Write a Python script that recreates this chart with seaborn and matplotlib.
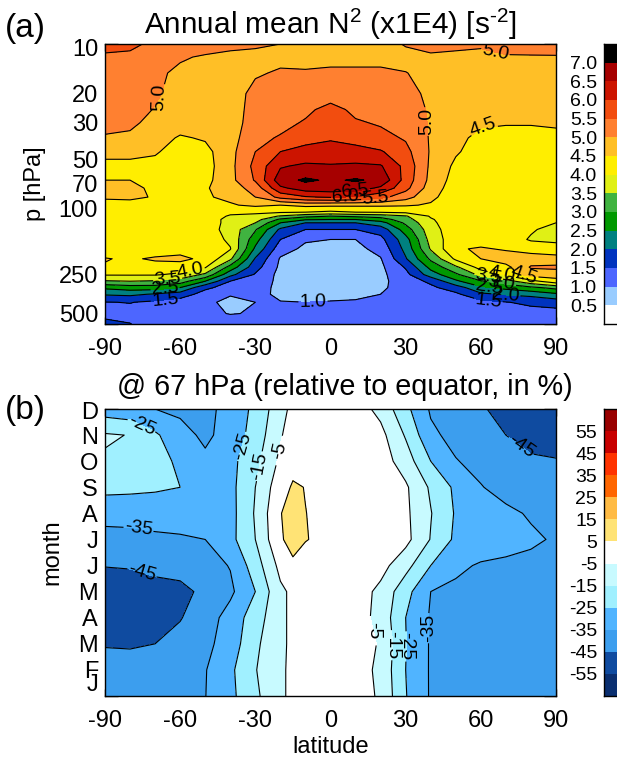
import numpy as np
import matplotlib
matplotlib.use("Agg")
import matplotlib.pyplot as plt
from matplotlib.colors import ListedColormap
import seaborn as sns

sns.set_style("ticks")
plt.rcParams['font.family'] = ['Liberation Sans', 'DejaVu Sans']
plt.rcParams['mathtext.fontset'] = 'custom'
plt.rcParams['mathtext.rm'] = 'Liberation Sans'
plt.rcParams['mathtext.default'] = 'regular'
plt.rcParams['axes.unicode_minus'] = False
plt.rcParams['contour.negative_linestyle'] = 'solid'
for key in ('text.color', 'axes.labelcolor', 'xtick.color', 'ytick.color'):
    plt.rcParams[key] = 'black'

lat_a = np.arange(-90, 91, 10)
p_a = [10, 12, 15, 20, 25, 30, 37.1, 45, 55.1, 67, 74.9, 84.9, 95, 100, 104.8, 110.8, 116.1, 121.6,
       133.5, 153.5, 175, 201, 226, 250.5, 275, 300.6, 330, 369, 432, 500]
n2_by_lat = [
 [5.6,5.45,5.35,5.25,5.2,5.15,4.95,4.65,4.35,4.5,4.6,4.55,4.35,4.25,4.2,4.2,4.2,4.2,4.2,4.25,4.3,4.52,4.47,4.05,3.45,2.6,2.05,1.48,1.4,1.6],
 [5.55,5.45,5.3,5.2,5.15,5.1,4.9,4.6,4.4,4.5,4.6,4.55,4.4,4.3,4.25,4.2,4.2,4.2,4.2,4.25,4.3,4.45,4.4,4.05,3.5,2.75,2.1,1.52,1.3,1.52],
 [5.45,5.3,5.1,5.05,4.98,4.85,4.7,4.55,4.35,4.35,4.42,4.48,4.3,4.25,4.2,4.2,4.2,4.2,4.2,4.25,4.3,4.55,4.35,4.05,3.45,2.75,1.95,1.4,1.2,1.15],
 [5.3,5.05,4.9,4.85,4.8,4.7,4.45,4.3,4.2,4.2,4.2,4.2,4.3,4.25,4.2,4.2,4.2,4.2,4.25,4.25,4.35,4.6,4.3,3.9,3.25,2.5,1.75,1.25,1.15,1.15],
 [5.2,4.95,4.8,4.75,4.7,4.65,4.55,4.35,4.3,4.35,4.45,4.45,4.3,4.3,4.25,4.25,4.25,4.25,4.25,4.3,4.5,4.4,4.05,3.4,2.5,1.6,1.3,1.15,1.1,1.2],
 [5.1,4.9,4.8,4.75,4.75,4.75,4.8,4.85,4.85,4.85,4.75,4.6,4.45,4.25,4.1,3.95,3.85,3.85,3.8,3.9,4.03,3.6,2.8,2.15,1.5,1.3,1.05,0.82,0.98,1.25],
 [5.05,4.9,4.95,5.15,5.2,5.25,5.35,5.5,5.65,5.55,5.2,5.0,4.6,4.3,4.1,3.85,3.7,3.5,3.05,2.7,2.4,1.95,1.7,1.45,1.35,1.25,1.15,1.0,1.03,1.25],
 [5.0,4.9,5.05,5.15,5.3,5.35,5.55,6.0,6.45,6.8,6.4,5.65,4.5,4.25,4.05,3.45,2.9,2.5,1.9,1.5,1.2,0.95,0.9,0.85,0.85,0.85,0.9,1.02,1.15,1.2],
 [4.7,4.85,5.05,5.25,5.4,5.55,5.85,6.15,6.6,7.08,6.75,5.95,4.65,4.25,4.0,3.15,2.55,2.0,1.5,1.05,0.9,0.8,0.75,0.75,0.75,0.8,0.85,1.0,1.15,1.25],
 [4.7,4.85,5.1,5.3,5.65,5.75,5.95,6.2,6.55,6.93,6.8,6.05,4.6,4.25,3.9,3.0,2.5,2.0,1.5,1.0,0.85,0.75,0.7,0.7,0.7,0.75,0.85,1.03,1.15,1.5],
 [4.7,4.85,5.1,5.25,5.4,5.55,5.85,6.15,6.6,7.05,6.75,5.95,4.6,4.25,4.0,3.1,2.5,2.0,1.5,1.0,0.87,0.78,0.72,0.72,0.73,0.8,0.9,1.05,1.15,1.25],
 [4.75,4.85,5.1,5.25,5.35,5.45,5.65,6.05,6.55,6.9,6.4,5.65,4.6,4.25,4.03,3.2,2.75,2.3,1.7,1.35,1.15,0.97,0.9,0.88,0.88,0.92,1.0,1.1,1.2,1.25],
 [5.05,4.8,5.02,5.15,5.2,5.3,5.45,5.65,5.85,5.8,5.65,5.2,4.55,4.3,4.1,3.45,3.3,3.1,2.75,2.3,2.15,1.95,1.55,1.35,1.25,1.2,1.15,1.15,1.2,1.25],
 [5.1,4.95,4.8,4.9,4.95,4.95,4.95,4.95,4.9,4.85,4.75,4.6,4.45,4.35,4.2,4.05,3.95,3.9,3.8,3.7,3.55,3.1,2.65,2.25,1.6,1.4,1.25,1.2,1.2,1.2],
 [5.1,4.9,4.75,4.7,4.65,4.6,4.6,4.55,4.4,4.3,4.25,4.25,4.3,4.3,4.3,4.3,4.3,4.3,4.3,4.3,4.45,4.1,3.4,2.9,2.4,1.75,1.4,1.25,1.2,1.2],
 [5.05,4.9,4.75,4.7,4.6,4.55,4.4,4.3,4.25,4.2,4.2,4.2,4.2,4.2,4.2,4.2,4.2,4.2,4.25,4.3,4.55,4.5,4.2,3.65,2.95,2.4,1.9,1.35,1.25,1.2],
 [5.2,4.95,4.75,4.65,4.6,4.52,4.4,4.3,4.25,4.2,4.2,4.2,4.2,4.2,4.2,4.2,4.2,4.2,4.2,4.25,4.45,4.75,4.35,4.1,3.3,2.65,2.05,1.48,1.3,1.2],
 [5.25,4.95,4.8,4.7,4.6,4.52,4.4,4.35,4.3,4.25,4.2,4.2,4.2,4.2,4.2,4.2,4.2,4.15,4.05,3.95,4.3,4.75,5.05,4.75,3.85,2.9,2.15,1.6,1.3,1.2],
 [5.3,4.95,4.8,4.7,4.6,4.55,4.4,4.35,4.3,4.25,4.2,4.2,4.2,4.2,4.2,4.1,4.05,4.0,3.85,3.9,4.2,4.7,5.1,4.75,4.3,3.15,2.4,1.7,1.3,1.2],
]
levels_a = [0.5,1.0,1.5,2.0,2.5,3.0,3.5,4.0,4.5,5.0,5.5,6.0,6.5,7.0]
colors_a = ['#FFFFFF','#99CCFF','#4D66FF','#0033BF','#008080','#009900','#40B340','#E0F015',
            '#FFEE00','#FFBF26','#FF8030','#F24D0F','#CC1400','#A60000','#000000']
labels_a = [(5.0,-69.7,20.4),(5.0,39.6,29.3),(5.0,66,10.9),(4.5,61,32),(4.0,-56,234),(3.5,-65,265),
            (2.5,-66,310),(1.5,-66,355),(1.0,-7,365),(6.0,6,85),(6.5,10,80),(5.5,18,85),
            (3.5,63,265),(4.0,68,270),(4.5,77,265),(2.5,63,310),(3.0,68,305),(2.0,70,335),(1.5,63,350)]
rotation_a = {0: 88, 1: 90}
pressure_ticks = [10, 20, 30, 50, 70, 100, 250, 500]
pressure_names = ['10', '20', '30', '50', '70', '100', '250', '500']

lat_b = [-90,-80,-70,-60,-50,-40,-30,-20,-15,-10,0,10,20,30,40,50,60,70,80,90]
month_idx = np.arange(12)
month_names = ['J','F','M','A','M','J','J','A','S','O','N','D']
rel_jan = [-38,-38,-37.5,-37,-35.2,-27.5,-17,-6.5,-3,-1,1,0,-6.5,-24.5,-36,-37,-38,-38,-38,-38]
rel_feb = [-39,-39,-38.5,-37.5,-35.5,-27,-15.5,-6.5,-3,-1,1,0,-7.5,-25,-36,-37,-38,-38,-38,-38]
rel_mar = [-46,-46.5,-45,-42,-37.5,-30.5,-17,-7,-3,-1,1,0,-6,-24.7,-36,-38,-38,-39,-39,-39]
rel_apr = [-52,-51,-48,-45.5,-40,-31,-20,-7,-3,-1,1,0,-8.5,-25,-36,-38,-38,-39,-39,-39]
rel_may = [-50,-49.5,-47,-46.2,-44,-37,-25,-7,-3,-1,1,0,-7.5,-21.5,-35,-37,-38,-39,-39,-39]
rel_jun = [-44.7,-44.3,-43.5,-43.3,-39,-34.5,-20,-2,3.5,2,2,1,-1.5,-11.5,-25,-33,-36,-37,-37.5,-38]
rel_jul = [-38,-37.5,-36.5,-36,-35,-28,-15,4,8,5.3,3,2,1,-2,-15.5,-27,-29,-31,-33.5,-36]
rel_aug = [-32,-32,-31.5,-31,-31,-28.5,-14,4.7,8,5.1,3,2,1,-3,-14.5,-26,-29.5,-33,-36,-38]
rel_sep = [-22,-22.5,-23.5,-25,-30,-28,-15,1.4,6,4.8,3,2,1,-3.5,-16.5,-27,-34.5,-38.5,-42,-43]
rel_oct = [-16,-17,-21,-27,-33,-28,-18,-3,2,2,3,1,0,-10,-25,-34.5,-38,-42,-44.2,-44.6]
rel_nov = [-14,-15.3,-23.5,-31.5,-37,-31,-21,-6,0,2,4,2,-2,-16,-33,-38,-41.5,-45,-47,-48]
rel_dec = [-30,-32,-35,-37,-37,-32.5,-22.3,-9,-2,2,4,0,-8,-22.3,-36.2,-40,-44,-48,-50,-50]
levels_b = [-55,-45,-35,-25,-15,-5,5,15,25,35,45,55]
colors_b = ['#0A2F70','#0F4BA0','#3C9EEE','#50B4FF','#A0F0FF','#C8FAFF','#FFFFFF','#FFE375',
            '#FFBB44','#FF6600','#FF3300','#C80000','#990000']
labels_b = [(-25,-75.3,10.4),(-35,-76.8,6.3),(-45,-75,4.8),(-25,-33,9.5),(-15,-28,8.8),(-5,-20,9.4),
            (-5,17,2.5),(-15,24.3,1.95),(-25,29.6,1.9),(-35,36.7,2.6),(-45,75.5,9.5)]
rotation_b = {6: -90, 7: -90, 8: -90, 9: 90}

W, H = 617, 759
fig = plt.figure(figsize=(W/100, H/100), dpi=100, facecolor='white')
def box(x0, y0, x1, y1):
    return [x0/W, 1-y1/H, (x1-x0)/W, (y1-y0)/H]

def style(ax):
    ax.tick_params(axis='both', which='major', direction='in', top=True, right=True, width=1,
                   labelsize=17, color='#222222')
    ax.tick_params(axis='x', which='major', length=5, pad=10)
    ax.tick_params(axis='y', which='major', length=9, pad=5)
    ax.tick_params(axis='both', which='minor', length=0)
    for s in ax.spines.values():
        s.set_visible(True); s.set_linewidth(1.0); s.set_color('black')
    ax.set_xlim(-90, 90)
    ax.set_xticks(np.arange(-90, 91, 30))

def edge_labels(ax, names, top_dy, bottom_dy):
    # the first and last axis labels sit inset from the corners, as in the reference
    inner = list(names)
    first, last = inner[0], inner[-1]
    inner[0] = inner[-1] = ''
    ax.set_yticklabels(inner)
    ax.annotate(first, xy=(0, 0), xycoords='axes fraction', xytext=(-7, bottom_dy), textcoords='offset pixels',
                ha='right', va='center', fontsize=17)
    ax.annotate(last, xy=(0, 1), xycoords='axes fraction', xytext=(-7, -top_dy), textcoords='offset pixels',
                ha='right', va='center', fontsize=17)

def colorbar(rect, colors, labels):
    cax = fig.add_axes(rect)
    n = len(colors)
    sns.heatmap(np.arange(n)[::-1].reshape(-1, 1), ax=cax, cmap=ListedColormap(colors), cbar=False,
                xticklabels=False, yticklabels=False)
    cax.set_yticks(np.arange(1, n))
    cax.set_yticklabels(labels, fontsize=14, rotation=0)
    cax.tick_params(axis='y', length=0, pad=5, left=False)
    for k, s in cax.spines.items():
        s.set_visible(k != 'right'); s.set_linewidth(1.0); s.set_color('black')

def place_labels(cs, items, fmt, rotations):
    # one label per (level, lat, y); the nearest line of that same level takes it
    levs = list(cs.levels)
    first = True
    for lev, x, y in items:
        i = levs.index(lev)
        xd, yd = cs.axes.transData.transform((x, y))
        if first:
            cs.clabel(levels=levs, manual=[(x, y)], fmt=fmt, fontsize=14, inline=True, inline_spacing=1)
            first = False
            continue
        cs.labelIndiceList = [i]
        cs.add_label_near(xd, yd, True, 1, transform=False)
    for k, r in rotations.items():
        cs.labelTexts[k].set_rotation(r)

# panel a
ax = fig.add_axes(box(105, 44, 556, 324))
style(ax)
ax.set_yscale('log')
ax.set_ylim(500, 10)
Za = np.array(n2_by_lat).T
ax.contourf(lat_a, p_a, Za, levels=levels_a, colors=colors_a, extend='both')
cs = ax.contour(lat_a, p_a, Za, levels=levels_a, colors='black', linewidths=0.8)
ax.set_yticks(pressure_ticks)
# log axis runs downward: the list starts at the top of the panel
ax.set_yticklabels(['', '20', '30', '50', '70', '100', '250', ''])
ax.annotate(pressure_names[0], xy=(0, 1), xycoords='axes fraction', xytext=(-7, -6), textcoords='offset pixels',
            ha='right', va='center', fontsize=17)
ax.annotate(pressure_names[-1], xy=(0, 0), xycoords='axes fraction', xytext=(-7, 8), textcoords='offset pixels',
            ha='right', va='center', fontsize=17)
ax.set_ylabel('p [hPa]', fontsize=17, labelpad=9)
place_labels(cs, labels_a, '%.1f', rotation_a)

# panel b
bx = fig.add_axes(box(105, 409, 556, 696))
style(bx)
Zb = np.array([rel_jan, rel_feb, rel_mar, rel_apr, rel_may, rel_jun, rel_jul, rel_aug, rel_sep, rel_oct, rel_nov, rel_dec])
bx.set_ylim(0, 11)
bx.contourf(lat_b, month_idx, Zb, levels=levels_b, colors=colors_b, extend='both')
cb = bx.contour(lat_b, month_idx, Zb, levels=levels_b, colors='black', linewidths=0.8, linestyles='solid')
bx.set_yticks(month_idx)
edge_labels(bx, month_names, 4, 11)
bx.set_xlabel('latitude', fontsize=17, labelpad=3)
bx.set_ylabel('month', fontsize=17, labelpad=11)
place_labels(cb, labels_b, '%d', rotation_b)

colorbar(box(604, 44, 617.5, 324), colors_a, ['%.1f' % v for v in levels_a[::-1]])
colorbar(box(604, 409, 617.5, 696), colors_b, ['%d' % v for v in levels_b[::-1]])

fig.text(330/W, 1-24/H, r'Annual mean N$^{2}$ (x1E4) [s$^{\text{-}2}$]', fontsize=21.4, ha='center', va='center')
fig.text(345/W, 1-387/H, '@ 67 hPa (relative to equator, in %)', fontsize=20.7, ha='center', va='center')
fig.text(5/W, 1-29/H, '(a)', fontsize=24, ha='left', va='center')
fig.text(5/W, 1-410/H, '(b)', fontsize=24, ha='left', va='center')

fig.savefig('out.png', dpi=100)
